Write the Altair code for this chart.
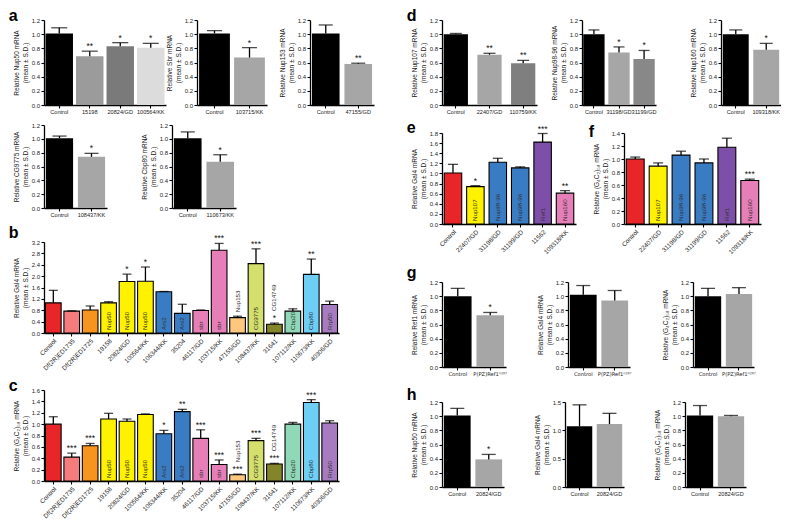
import altair as alt
import pandas as pd

FONT = "Liberation Sans"
BLACK = "#000000"
GRAY = "#a6a6a6"

# ---------------- panel a ----------------
a_nup50_cats = ["Control", "15198", "20824/GD", "100564/KK"]
a_nup50_mean = [1.01, 0.69, 0.83, 0.81]
a_nup50_sd = [0.08, 0.07, 0.05, 0.06]
a_nup50_sig = ["", "**", "*", "*"]
a_nup50_colors = [BLACK, "#9b9b9b", "#7a7a7a", "#dcdcdc"]

a_sbr_cats = ["Control", "103715/KK"]
a_sbr_mean = [1.01, 0.67]
a_sbr_sd = [0.04, 0.14]
a_sbr_sig = ["", "*"]

a_nup153_cats = ["Control", "47155/GD"]
a_nup153_mean = [1.01, 0.58]
a_nup153_sd = [0.12, 0.01]
a_nup153_sig = ["", "**"]

a_cg_cats = ["Control", "108437/KK"]
a_cg_mean = [1.01, 0.74]
a_cg_sd = [0.03, 0.05]
a_cg_sig = ["", "*"]

a_cbp_cats = ["Control", "110673/KK"]
a_cbp_mean = [1.01, 0.67]
a_cbp_sd = [0.09, 0.10]
a_cbp_sig = ["", "*"]

# ---------------- panels b / c ----------------
bc_cats = ["Control", "Df(2R)ED1735", "Df(2R)ED1725", "19158", "20824/GD", "100564/KK",
           "106344/KK", "35204", "46117/GD", "103715/KK", "47155/GD", "108437/KK",
           "31641", "107112/KK", "110673/KK", "40306/GD"]
bc_inner = ["", "", "", "Nup50", "Nup50", "Nup50", "Ars2", "Ars2", "sbr", "sbr", "",
            "CG9775", "", "Cbp20", "Cbp80", "Rrp50"]
bc_above = ["", "", "", "", "", "", "", "", "", "", "Nup153", "", "CG14749", "", "", ""]
bc_colors = ["#e8262a", "#f47c7c", "#f7941d", "#fff200", "#fff200", "#fff200",
             "#3a7cc3", "#3a7cc3", "#e67eb8", "#e67eb8", "#fdc87e", "#d4e06b",
             "#84842a", "#8fd8b8", "#6dcff6", "#a77bc0"]

b_mean = [1.06, 0.77, 0.81, 1.06, 1.81, 1.82, 1.45, 0.69, 0.79, 2.91, 0.54, 2.44, 0.31, 0.77, 2.06, 1.00]
b_sd = [0.44, 0.01, 0.14, 0.04, 0.26, 0.50, 0.01, 0.32, 0.02, 0.24, 0.05, 0.52, 0.04, 0.08, 0.54, 0.12]
b_sig = ["", "", "", "", "*", "*", "", "", "", "***", "", "***", "*", "", "**", ""]

c_mean = [1.00, 0.42, 0.62, 1.09, 1.05, 1.17, 0.83, 1.22, 0.75, 0.29, 0.11, 0.71, 0.30, 1.00, 1.38, 1.02]
c_sd = [0.13, 0.07, 0.04, 0.10, 0.04, 0.01, 0.06, 0.04, 0.15, 0.08, 0.01, 0.04, 0.01, 0.03, 0.05, 0.04]
c_sig = ["", "***", "***", "", "", "", "*", "**", "***", "***", "***", "***", "***", "", "***", ""]

# ---------------- panel d ----------------
d_nup107_cats = ["Control", "22407/GD", "110759/KK"]
d_nup107_mean = [1.00, 0.71, 0.59]
d_nup107_sd = [0.01, 0.02, 0.04]
d_nup107_sig = ["", "**", "**"]

d_nup98_cats = ["Control", "31198/GD", "31199/GD"]
d_nup98_mean = [1.00, 0.74, 0.65]
d_nup98_sd = [0.06, 0.08, 0.12]
d_nup98_sig = ["", "*", "*"]

d_nup160_cats = ["Control", "109318/KK"]
d_nup160_mean = [1.00, 0.78]
d_nup160_sd = [0.06, 0.09]
d_nup160_sig = ["", "*"]

# ---------------- panels e / f ----------------
ef_cats = ["Control", "22407/GD", "31198/GD", "31199/GD", "11562", "109318/KK"]
ef_inner = ["", "Nup107", "Nup98-96", "Nup98-96", "Ref1", "Nup160"]
ef_colors = ["#e8262a", "#fff200", "#3a7cc3", "#3a7cc3", "#7e4fa8", "#e67eb8"]
e_mean = [1.01, 0.74, 1.22, 1.11, 1.62, 0.61]
e_sd = [0.17, 0.02, 0.08, 0.02, 0.17, 0.05]
e_sig = ["", "*", "", "", "***", "**"]
f_mean = [1.00, 0.89, 1.06, 0.94, 1.18, 0.67]
f_sd = [0.03, 0.05, 0.06, 0.06, 0.14, 0.02]
f_sig = ["", "", "", "", "", "***"]

# ---------------- panel g ----------------
g_cats = ["Control", "P(PZ)Ref1⁰²⁸⁷"]
g_ref1_mean = [1.00, 0.73]
g_ref1_sd = [0.11, 0.04]
g_ref1_sig = ["", "*"]
g_gal4_mean = [1.02, 0.94]
g_gal4_sd = [0.13, 0.14]
g_g4c2_mean = [1.00, 1.03]
g_g4c2_sd = [0.11, 0.09]

# ---------------- panel h ----------------
h_cats = ["Control", "20824/GD"]
h_nup50_mean = [1.01, 0.39]
h_nup50_sd = [0.10, 0.07]
h_nup50_sig = ["", "*"]
h_gal4_mean = [1.07, 1.11]
h_gal4_sd = [0.38, 0.19]
h_g4c2_mean = [1.01, 1.00]
h_g4c2_sd = [0.14, 0.01]

MEAN_SD = "(mean ± S.D.)"
G4C2 = "(G₄C₂)₅₈"


def panel(cats, mean, sd, colors, ytitle, ymax, ystep, w, h, sig=None, inner=None,
          above=None, stroke=False, angle=0, pin=0.12, pout=0.08, cap=12,
          letter=None, letter_dy=0, xfs=5.6, xfont=FONT):
    n = len(cats)
    df = pd.DataFrame({
        "cat": cats,
        "mean": mean,
        "top": [m + s for m, s in zip(mean, sd)],
        "sig": sig if sig else [""] * n,
        "inner": inner if inner else [""] * n,
        "above": above if above else [""] * n,
        "col": colors,
    })
    nt = int(round(ymax / ystep))
    ticks = [round(i * ystep, 2) for i in range(nt + 1)]
    yscale = alt.Scale(domain=[0, ymax], nice=False, zero=True)
    xscale = alt.Scale(paddingInner=pin, paddingOuter=pout)
    xaxis = alt.Axis(title=None, labelAngle=angle, labelOverlap=False,
                     labelPadding=1.5, labelFontSize=xfs, labelFont=xfont)
    yaxis = alt.Axis(title=ytitle, values=ticks, format=".1f", labelOverlap=False,
                     labelFontSize=6, tickCount=len(ticks))
    xe = alt.X("cat:N", sort=cats, scale=xscale, axis=xaxis)
    ye = alt.Y("mean:Q", scale=yscale, axis=yaxis)
    yt = alt.Y("top:Q", scale=yscale, axis=yaxis)
    base = alt.Chart(df)
    bar_kw = dict(stroke="black", strokeWidth=1.1) if stroke else dict(strokeWidth=0)
    bars = base.mark_bar(**bar_kw).encode(
        x=xe, y=ye, color=alt.Color("col:N", scale=None, legend=None))
    err = base.mark_rule(color="black", strokeWidth=1.3).encode(x=xe, y=ye, y2="top:Q")
    caps = base.mark_tick(color="black", thickness=1.3, size=cap).encode(x=xe, y=yt)
    stars = base.mark_text(baseline="bottom", dy=0, fontSize=8.5, font=FONT,
                           color="#111").encode(x=xe, y=yt, text="sig:N")
    layers = [bars, err, caps, stars]
    if inner:
        layers.append(base.mark_text(angle=270, align="left", baseline="middle", dx=3,
                                     fontSize=6.2, font=FONT, color="#333").encode(
            x=xe, y=alt.YDatum(0, scale=yscale, axis=yaxis), text="inner:N"))
    if above:
        layers.append(base.transform_filter("datum.above != '' && datum.sig == ''").mark_text(
            angle=270, align="left", baseline="middle", dx=4, fontSize=6.2, font=FONT,
            color="#333").encode(x=xe, y=yt, text="above:N"))
        layers.append(base.transform_filter("datum.above != '' && datum.sig != ''").mark_text(
            angle=270, align="left", baseline="middle", dx=12, fontSize=6.2, font=FONT,
            color="#333").encode(x=xe, y=yt, text="above:N"))
    props = dict(width=w, height=h)
    if letter:
        props["title"] = alt.TitleParams(text=letter, anchor="start", frame="bounds",
                                         fontSize=16, fontWeight="bold", font=FONT,
                                         offset=0, dx=-5, dy=letter_dy, color="black")
    return alt.layer(*layers).properties(**props)


def two(gene):
    return [f"Relative {gene} mRNA", MEAN_SD]


BW = [BLACK, GRAY]

# panel a
p_nup50 = panel(a_nup50_cats, a_nup50_mean, a_nup50_sd, a_nup50_colors, two("Nup50"), 1.2, 0.2,
                122, 85, sig=a_nup50_sig, pin=0.1, pout=0.05, cap=16, letter="a", letter_dy=7)
p_sbr = panel(a_sbr_cats, a_sbr_mean, a_sbr_sd, BW, two("Sbr"), 1.2, 0.2, 70, 85,
              sig=a_sbr_sig, pin=0.12, pout=0.06, cap=15)
p_nup153 = panel(a_nup153_cats, a_nup153_mean, a_nup153_sd, BW, two("Nup153"), 1.2, 0.2, 64, 85,
                 sig=a_nup153_sig, pin=0.15, pout=0.06, cap=14)
p_cg = panel(a_cg_cats, a_cg_mean, a_cg_sd, BW, two("CG9775"), 1.2, 0.2, 63, 83,
             sig=a_cg_sig, pin=0.15, pout=0.06, cap=14)
p_cbp = panel(a_cbp_cats, a_cbp_mean, a_cbp_sd, BW, two("Cbp80"), 1.2, 0.2, 64, 83,
              sig=a_cbp_sig, pin=0.15, pout=0.06, cap=14)

# panel b, c
p_b = panel(bc_cats, b_mean, b_sd, bc_colors, two("Gal4"), 3.2, 0.4, 295, 91, sig=b_sig,
            inner=bc_inner, above=bc_above, stroke=True, angle=-45, pin=0.15, pout=0.08, cap=9,
            letter="b", letter_dy=7, xfs=6.3)
p_c = panel(bc_cats, c_mean, c_sd, bc_colors, two(G4C2), 1.6, 0.2, 295, 91, sig=c_sig,
            inner=bc_inner, above=bc_above, stroke=True, angle=-45, pin=0.15, pout=0.08, cap=9,
            letter="c", letter_dy=7, xfs=6.3)

# panel d
p_nup107 = panel(d_nup107_cats, d_nup107_mean, d_nup107_sd, [BLACK, GRAY, "#7f7f7f"], two("Nup107"),
                 1.2, 0.2, 95, 85, sig=d_nup107_sig, pin=0.28, pout=0.05, cap=12,
                 letter="d", letter_dy=7)
p_nup98 = panel(d_nup98_cats, d_nup98_mean, d_nup98_sd, [BLACK, GRAY, "#888888"], two("Nup98-96"),
                1.2, 0.2, 74, 85, sig=d_nup98_sig, pin=0.15, pout=0.05, cap=11)
p_nup160 = panel(d_nup160_cats, d_nup160_mean, d_nup160_sd, BW, two("Nup160"), 1.2, 0.2, 60, 85,
                 sig=d_nup160_sig, pin=0.15, pout=0.06, cap=13)

# panel e, f
p_e = panel(ef_cats, e_mean, e_sd, ef_colors, two("Gal4"), 1.8, 0.2, 134, 91, sig=e_sig,
            inner=ef_inner, stroke=True, angle=-45, pin=0.22, pout=0.1, cap=10,
            letter="e", letter_dy=11, xfs=6.3)
p_f = panel(ef_cats, f_mean, f_sd, ef_colors, two(G4C2), 1.4, 0.2, 137, 91, sig=f_sig,
            inner=ef_inner, stroke=True, angle=-45, pin=0.22, pout=0.1, cap=10,
            letter="f", letter_dy=11, xfs=6.3)

# panel g
p_g1 = panel(g_cats, g_ref1_mean, g_ref1_sd, BW, two("Ref1"), 1.2, 0.2, 64, 85, sig=g_ref1_sig,
             pin=0.15, pout=0.06, cap=14, letter="g", letter_dy=2, xfs=5.2, xfont="DejaVu Sans")
p_g2 = panel(g_cats, g_gal4_mean, g_gal4_sd, BW, two("Gal4"), 1.2, 0.2, 62, 85,
             pin=0.15, pout=0.06, cap=14, xfs=5.2, xfont="DejaVu Sans")
p_g3 = panel(g_cats, g_g4c2_mean, g_g4c2_sd, BW, two(G4C2), 1.2, 0.2, 61, 85,
             pin=0.15, pout=0.06, cap=14, xfs=5.2, xfont="DejaVu Sans")

# panel h
p_h1 = panel(h_cats, h_nup50_mean, h_nup50_sd, BW, two("Nup50"), 1.2, 0.2, 62, 85, sig=h_nup50_sig,
             pin=0.15, pout=0.06, cap=14, letter="h", letter_dy=4)
p_h2 = panel(h_cats, h_gal4_mean, h_gal4_sd, BW, two("Gal4"), 1.5, 0.5, 59, 85,
             pin=0.15, pout=0.06, cap=14)
p_h3 = panel(h_cats, h_g4c2_mean, h_g4c2_sd, BW, two(G4C2), 1.2, 0.2, 61, 85,
             pin=0.15, pout=0.06, cap=14)

row_a1 = alt.hconcat(alt.hconcat(p_nup50, p_sbr, spacing=0), p_nup153, spacing=12)
row_a2 = alt.hconcat(p_cg, p_cbp, spacing=34)
left = alt.vconcat(row_a1, row_a2, p_b, p_c, spacing=6)

row_d = alt.hconcat(alt.hconcat(p_nup107, p_nup98, spacing=14), p_nup160, spacing=33)
row_ef = alt.hconcat(p_e, p_f, spacing=12)
row_g = alt.hconcat(p_g1, p_g2, p_g3, spacing=30)
row_h = alt.hconcat(p_h1, p_h2, p_h3, spacing=30)
right = alt.vconcat(alt.vconcat(row_d, row_ef, spacing=3), row_g, row_h, spacing=10)

chart = alt.hconcat(left, right, spacing=32).properties(
    padding={"left": 0, "top": 0, "right": 0, "bottom": 0}, background="white"
).configure_axis(
    grid=False, domainColor="black", domainWidth=1.3, tickColor="black", tickWidth=1.1,
    tickSize=3, labelFont=FONT, labelFontSize=6, labelColor="#222", labelPadding=1.5,
    titleFont=FONT, titleFontSize=6.5, titleFontWeight="normal", titleColor="#222",
    titlePadding=3
).configure_view(stroke=None)

chart.save("out.html", embed_options={"renderer": "svg", "actions": False})
